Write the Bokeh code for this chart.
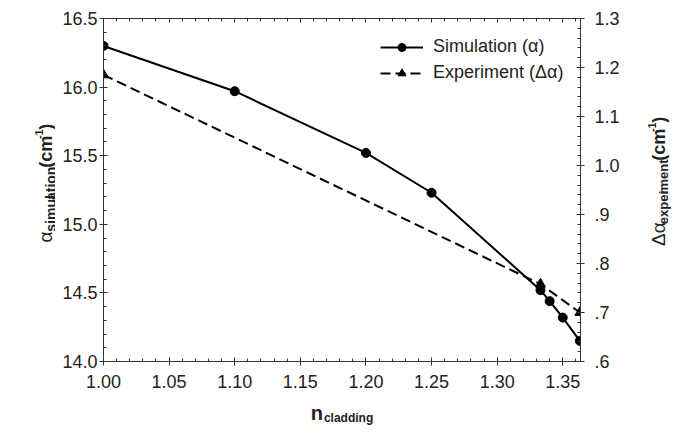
import math
from bokeh.plotting import figure
from bokeh.layouts import row, column
from bokeh.models import (Range1d, LinearAxis, Legend, LegendItem, Label,
                          CustomJSTickFormatter, SingleIntervalTicker, NumeralTickFormatter)
from bokeh.embed import file_html
from bokeh.resources import INLINE

# ---- data ----
sim_x = [1.00, 1.10, 1.20, 1.25, 1.333, 1.34, 1.35, 1.363]
sim_y = [16.30, 15.97, 15.52, 15.23, 14.52, 14.44, 14.32, 14.15]
exp_x = [1.00, 1.333, 1.363]
exp_y = [1.185, 0.758, 0.70]
sim_label = "Simulation (\u03b1)"
exp_label = "Experiment (\u0394\u03b1)"

FONT = "Liberation Sans"
INK = "#222222"
AX = "#333333"

# layout geometry (pixels)
W, H = 683, 436
LW, RW, BH = 55, 58, 40
PW, PH = W - LW - RW, H - BH

p = figure(width=PW, height=PH, output_backend="svg", toolbar_location=None,
           x_range=Range1d(1.0, 1.3635), y_range=Range1d(14.0, 16.5),
           min_border_left=103 - LW, min_border_right=PW + LW - 580,
           min_border_top=18, min_border_bottom=PH - 361,
           background_fill_color="white", border_fill_color="white")
p.outline_line_color = None
p.xgrid.visible = False
p.ygrid.visible = False
p.extra_y_ranges = {"exp": Range1d(0.6, 1.3)}

def style_axis(ax, tick_out=4, tick_in=4, minor_in=3, standoff=2):
    ax.axis_line_color = AX
    ax.major_tick_line_color = AX
    ax.minor_tick_line_color = AX
    ax.major_tick_out = tick_out
    ax.major_tick_in = tick_in
    ax.minor_tick_out = 0
    ax.minor_tick_in = minor_in
    ax.major_label_text_font = FONT
    ax.major_label_text_font_size = "18px"
    ax.major_label_text_color = INK
    ax.major_label_standoff = standoff

xa = p.xaxis[0]
xa.ticker = SingleIntervalTicker(interval=0.05, num_minor_ticks=5)
xa.formatter = NumeralTickFormatter(format="0.00")
style_axis(xa, standoff=9)

ya = p.yaxis[0]
ya.ticker = SingleIntervalTicker(interval=0.5, num_minor_ticks=5)
ya.formatter = NumeralTickFormatter(format="0.0")
style_axis(ya, standoff=2)

ra = LinearAxis(y_range_name="exp",
                ticker=SingleIntervalTicker(interval=0.1, num_minor_ticks=5),
                formatter=CustomJSTickFormatter(code="""
                    const s = tick.toFixed(1);
                    return tick < 0.999 ? s.substring(1) : s;"""))
style_axis(ra, standoff=10)
p.add_layout(ra, "right")

ta = LinearAxis(ticker=SingleIntervalTicker(interval=0.05, num_minor_ticks=5))
style_axis(ta, tick_out=0, tick_in=4, minor_in=3, standoff=0)
ta.major_label_text_font_size = "0px"
ta.major_label_text_alpha = 0
p.add_layout(ta, "above")

# ---- series ----
l1 = p.line(sim_x, sim_y, line_color="black", line_width=2)
s1 = p.scatter(sim_x, sim_y, marker="circle", size=9, fill_color="black", line_color="black")
l2 = p.line(exp_x, exp_y, y_range_name="exp", line_color="black", line_width=2,
            line_dash="10 5")
s2 = p.scatter(exp_x, exp_y, y_range_name="exp", marker="triangle", size=10,
               fill_color="black", line_color="black")

legend = Legend(items=[LegendItem(label=sim_label, renderers=[l1, s1]),
                       LegendItem(label=exp_label, renderers=[l2, s2])],
                location=(277, 278))
legend.background_fill_alpha = 0
legend.border_line_color = None
legend.padding = 0
legend.margin = 0
legend.spacing = 5
legend.glyph_width = 43
legend.glyph_height = 20
legend.label_height = 20
legend.label_standoff = 10
legend.label_text_font = FONT
legend.label_text_font_size = "18px"
legend.label_text_color = INK
p.add_layout(legend)

# ---- panels for the rich-text axis titles ----
def panel(w, h):
    f = figure(width=w, height=h, output_backend="svg", toolbar_location=None,
               x_range=Range1d(0, w), y_range=Range1d(0, h),
               x_axis_type=None, y_axis_type=None, min_border=0,
               min_border_left=0, min_border_right=0, min_border_top=0,
               min_border_bottom=0, background_fill_color="white",
               border_fill_color="white")
    f.outline_line_color = None
    f.xgrid.visible = False
    f.ygrid.visible = False
    return f

REG = {'S': 667, 'i': 222, 'm': 833, 'u': 556, 'l': 222, 'a': 556, 't': 278, 'o': 556,
       'n': 556, ' ': 278, '(': 333, ')': 333, 'E': 667, 'x': 500, 'p': 556, 'e': 556,
       'r': 333, '\u03b1': 600, '\u0394': 668, 'c': 500, '-': 333, '1': 556, 's': 500,
       'd': 556, 'g': 556}
BOLD = {'s': 556, 'i': 278, 'm': 889, 'u': 611, 'l': 278, 'a': 556, 't': 333, 'o': 611,
        'n': 611, ' ': 278, '(': 333, ')': 333, 'c': 556, '-': 333, '1': 556, 'e': 556,
        'x': 556, 'p': 611, 'r': 389, 'd': 611, 'g': 611, '\u03b1': 620, '\u0394': 700}

def text_w(s, size, bold):
    tbl = BOLD if bold else REG
    return sum(tbl.get(ch, 556) for ch in s) * size / 1000.0

def rich(fig, pieces, cx, cy, vertical, gap=1.5):
    # pieces: (text, size, bold, baseline shift, gap after)
    total = sum(text_w(t, sz, b) + g for t, sz, b, _, g in pieces)
    pos = (cy if vertical else cx) - total / 2.0
    for t, sz, b, shift, g in pieces:
        if vertical:
            x, y, ang = cx - shift, pos, math.pi / 2
        else:
            x, y, ang = pos, cy + shift, 0
        fig.add_layout(Label(x=x, y=y, text=t, angle=ang, text_align="left",
                             text_baseline="alphabetic", text_font=FONT,
                             text_font_size=f"{sz}px",
                             text_font_style="bold" if b else "normal",
                             text_color=INK))
        pos += text_w(t, sz, b) + g

frame_mid = PH - (18 + 361) / 2.0   # vertical centre of plot frame, from panel bottom

left_p = panel(LW, PH)
rich(left_p, [("\u03b1", 19, False, 0, 1), ("simul", 14, True, -5, 0),
              ("ation", 14, True, -5, 4), ("(cm", 18, True, 0, 1),
              ("-1", 11, True, 7, 1), (")", 18, True, 0, 0)], 45, frame_mid - 1, True)

right_p = panel(RW, PH)
rich(right_p, [("\u0394\u03b1", 19, False, 0, 1), ("exper", 13, True, -5, 0),
               ("iment", 13, True, -5, 4), ("(cm", 18, True, 0, 1),
               ("-1", 11, True, 7, 1), (")", 18, True, 0, 0)],
     658 - (LW + PW), frame_mid + 1, True)

bottom_p = panel(W, BH)
rich(bottom_p, [("n", 20, True, 0, 1), ("cladding", 12, True, -5, 0)],
     (103 + 580) / 2.0, H - 412, False)

layout = column(row(left_p, p, right_p, spacing=0), bottom_p, spacing=0)
open("out.html", "w").write(file_html(layout, INLINE))
